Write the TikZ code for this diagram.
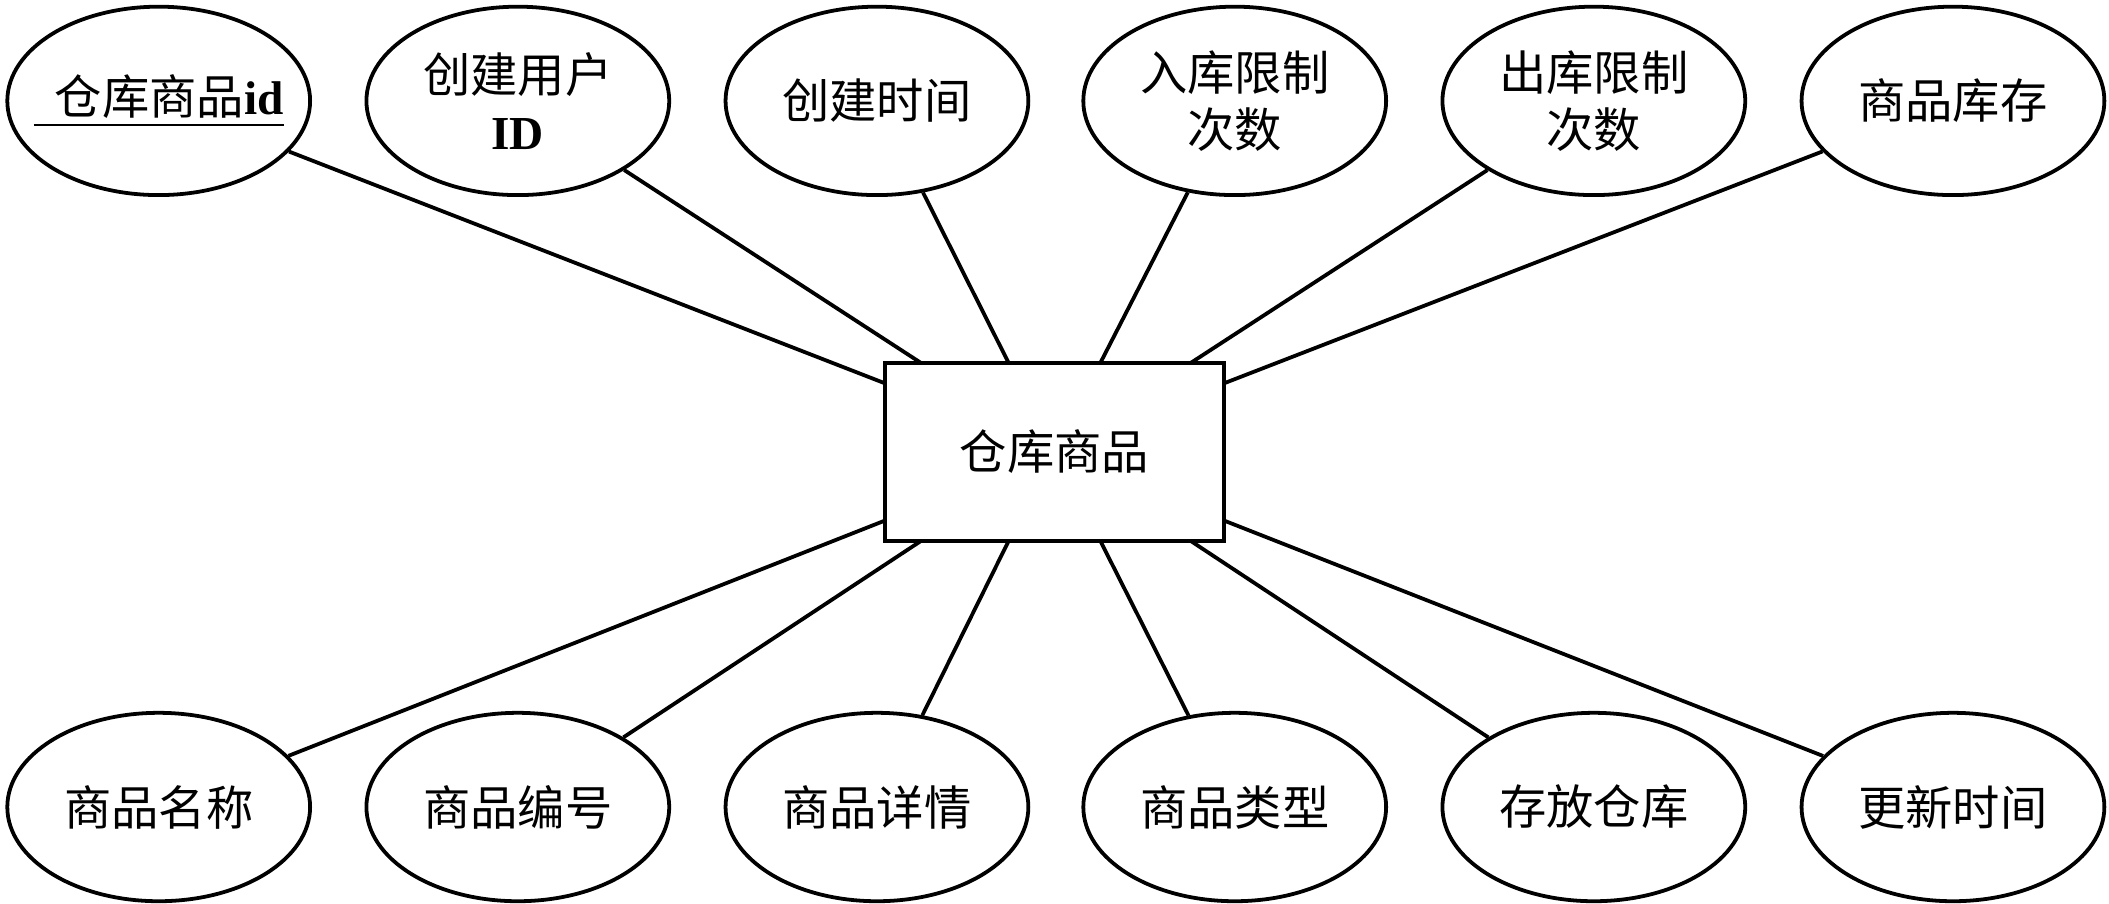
\documentclass[tikz,border=0pt]{standalone}
\usepackage{fontspec}
\setmainfont{Liberation Serif}
\newfontfamily\cjk{Noto Sans CJK SC}
\usetikzlibrary{positioning,shapes.geometric,calc}

\begin{document}
\begin{tikzpicture}[x=0.01cm,y=-0.01cm,
    attr/.style={draw, thick, ellipse, inner sep=0pt, minimum width=2.25cm, minimum height=1.4cm, align=center, font=\cjk\fontsize{10}{12}\selectfont},
    entity/.style={draw, thick, rectangle, minimum width=2.52cm, minimum height=1.32cm, font=\cjk\fontsize{10}{12}\selectfont}]
            \useasboundingbox (0,0) rectangle (1568,672);
            % Entidad
            \node[entity] (box) at (784,336) {仓库商品};

            % Atributos arriba
            \node[attr, inner xsep=-0.35cm] (gid) at (118,75) {\underline{\ \ 仓库商品{\rmfamily\bfseries id}}};
            \node[attr] (uid) at (385,75) {创建用户\\{\rmfamily\bfseries ID}};
            \node[attr] (ctime) at (652,75) {创建时间};
            \node[attr] (inlim) at (918,75) {入库限制\\次数};
            \node[attr] (outlim) at (1185,75) {出库限制\\次数};
            \node[attr] (stock) at (1452,75) {商品库存};

            % Atributos abajo
            \node[attr] (name) at (118,600) {商品名称};
            \node[attr] (code) at (385,600) {商品编号};
            \node[attr] (detail) at (652,600) {商品详情};
            \node[attr] (type) at (918,600) {商品类型};
            \node[attr] (store) at (1185,600) {存放仓库};
            \node[attr] (utime) at (1452,600) {更新时间};

            % Puntos del rectángulo
            \coordinate (t1) at (658,285);
            \coordinate (t2) at (685,270);
            \coordinate (t3) at (750,270);
            \coordinate (t4) at (818,270);
            \coordinate (t5) at (885,270);
            \coordinate (t6) at (910,285);
            \coordinate (b1) at (658,387);
            \coordinate (b2) at (685,402);
            \coordinate (b3) at (750,402);
            \coordinate (b4) at (818,402);
            \coordinate (b5) at (885,402);
            \coordinate (b6) at (910,387);

            % Aristas
            \draw[thick] (gid) -- (t1);
            \draw[thick] (uid) -- (t2);
            \draw[thick] (ctime) -- (t3);
            \draw[thick] (inlim) -- (t4);
            \draw[thick] (outlim) -- (t5);
            \draw[thick] (stock) -- (t6);
            \draw[thick] (name) -- (b1);
            \draw[thick] (code) -- (b2);
            \draw[thick] (detail) -- (b3);
            \draw[thick] (type) -- (b4);
            \draw[thick] (store) -- (b5);
            \draw[thick] (utime) -- (b6);
\end{tikzpicture}
\end{document}
